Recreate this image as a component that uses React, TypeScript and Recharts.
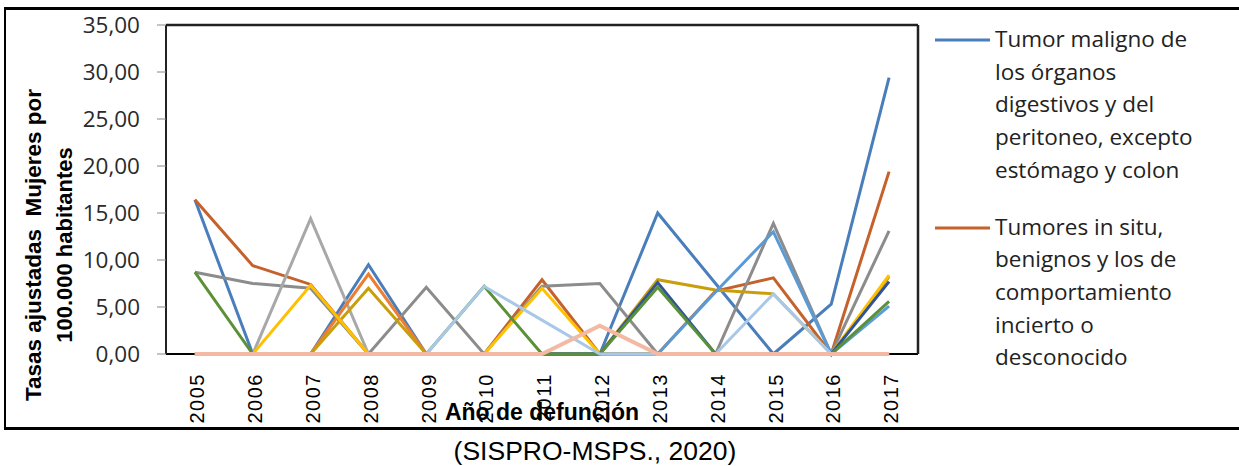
import React from "react";
import { LineChart, Line, XAxis, YAxis, ReferenceLine } from "recharts";

const years = ["2005", "2006", "2007", "2008", "2009", "2010", "2011", "2012", "2013", "2014", "2015", "2016", "2017"];

const tumorMaligno = [16.4, 0, 0, 9.5, 0, 0, 0, 0, 15.0, 7.5, 0, 5.3, 29.4];
const tumoresInSitu = [16.4, 9.4, 7.4, 0, 0, 0, 7.9, 0, 0, 6.7, 8.1, 0, 19.4];
const serieGris = [8.7, 7.5, 7.0, 0, 7.1, 0, 7.2, 7.5, 0, 0, 13.9, 0, 13.1];
const serieGrisClaro = [0, 0, 14.4, 0, 0, 0, 0, 0, 0, 0, 0, 0, 0];
const serieNaranja = [0, 0, 0, 8.5, 0, 0, 0, 0, 0, 0, 0, 0, 0];
const serieOro = [0, 0, 0, 7.0, 0, 0, 0, 0, 7.9, 6.8, 6.4, 0, 8.2];
const serieAmarilla = [0, 0, 7.3, 0, 0, 0, 7.0, 0, 0, 0, 0, 0, 8.4];
const serieAzulMedio = [0, 0, 0, 0, 0, 0, 0, 0, 0, 6.6, 13.0, 0, 5.1];
const serieAzulOscuro = [0, 0, 0, 0, 0, 0, 0, 0, 7.6, 0, 0, 0, 7.7];
const serieVerde = [8.7, 0, 0, 0, 0, 7.2, 0, 0, 7.1, 0, 0, 0, 5.6];
const serieAzulPalido = [0, 0, 0, 0, 0, 7.2, 3.6, 0, 0, 0, 6.4, 0, 0];
const serieSalmon = [0, 0, 0, 0, 0, 0, 0, 3.0, 0, 0, 0, 0, 0];

const yTicks = [0, 5, 10, 15, 20, 25, 30, 35];

// drawing order matters: later series sit on top
const series = [
  { key: "tumorMaligno", name: "Tumor maligno de los órganos digestivos y del peritoneo, excepto estómago y colon", values: tumorMaligno, color: "#4a7ebb", legend: true },
  { key: "tumoresInSitu", name: "Tumores in situ, benignos y los de comportamiento incierto o desconocido", values: tumoresInSitu, color: "#c5612b", legend: true },
  { key: "gris", name: "Serie 3", values: serieGris, color: "#8c8c8c" },
  { key: "grisClaro", name: "Serie 4", values: serieGrisClaro, color: "#a8a8a8" },
  { key: "naranja", name: "Serie 5", values: serieNaranja, color: "#ed7d31" },
  { key: "oro", name: "Serie 6", values: serieOro, color: "#c99e0c" },
  { key: "amarilla", name: "Serie 7", values: serieAmarilla, color: "#ffc000" },
  { key: "azulMedio", name: "Serie 8", values: serieAzulMedio, color: "#5b9bd5" },
  { key: "azulOscuro", name: "Serie 9", values: serieAzulOscuro, color: "#2f5597" },
  { key: "verde", name: "Serie 10", values: serieVerde, color: "#5a9138" },
  { key: "azulPalido", name: "Serie 11", values: serieAzulPalido, color: "#a9c8e8" },
  { key: "salmon", name: "Serie 12", values: serieSalmon, color: "#f4b9a3" },
];

const data = years.map((year, idx) => {
  const row: Record<string, number | string> = { idx, year };
  series.forEach((s) => {
    row[s.key] = s.values[idx];
  });
  return row;
});

const labelTicks = years.map((_, i) => i);
const boundTicks = years.map((_, i) => i - 0.5).concat(years.length - 0.5);
const xDomain = [-0.5, years.length - 0.5];
const lastIdx = years.length - 1;

const fmt = (v: number) => v.toFixed(2).replace(".", ",");

const YearTick = (props: any) => {
  const { x, y, payload } = props;
  return (
    <text
      transform={`translate(${x + 2},${y + 18}) rotate(-90)`}
      textAnchor="end"
      dy="0.36em"
      fontSize={20}
      fontFamily="'Liberation Sans', Arial, sans-serif"
      letterSpacing={1.5}
      fill="#000"
    >
      {years[payload.value]}
    </text>
  );
};

export default function App() {
  return (
    <div style={{ position: "absolute", left: 0, top: 0, width: 1239, height: 466, background: "#fff", overflow: "hidden" }}>
      <div
        style={{
          position: "absolute",
          left: 4,
          top: 7,
          width: 1235,
          height: 423,
          borderTop: "3px solid #000",
          borderBottom: "3px solid #000",
          borderLeft: "2px solid #000",
          boxSizing: "border-box",
        }}
      />
      <div style={{ position: "absolute", left: 0, top: 0 }}>
        <LineChart width={1239} height={466} data={data} margin={{ top: 24, right: 320, bottom: 110, left: 0 }}>
          <XAxis
            xAxisId="bounds"
            type="number"
            domain={xDomain}
            ticks={boundTicks}
            interval={0}
            tick={false}
            tickSize={6}
            tickLine={{ stroke: "#888" }}
            axisLine={false}
            height={1}
          />
          <XAxis
            xAxisId="labels"
            dataKey="idx"
            type="number"
            domain={xDomain}
            ticks={labelTicks}
            interval={0}
            tick={<YearTick />}
            tickLine={false}
            tickSize={0}
            tickMargin={0}
            axisLine={false}
            height={1}
          />
          <XAxis
            xAxisId="top"
            orientation="top"
            type="number"
            domain={xDomain}
            tick={false}
            tickLine={false}
            axisLine={{ stroke: "#222", strokeWidth: 2.5 }}
            height={1}
          />
          <YAxis
            type="number"
            domain={[0, 35]}
            ticks={yTicks}
            interval={0}
            tickFormatter={fmt}
            tickSize={9}
            tickMargin={17}
            width={166}
            tickLine={{ stroke: "#888" }}
            axisLine={{ stroke: "#222", strokeWidth: 2 }}
            tick={{ fontSize: 22.5, fontFamily: "'Open Sans', sans-serif", fill: "#2a2a2a" }}
          />
          <YAxis
            yAxisId="right"
            orientation="right"
            type="number"
            domain={[0, 35]}
            tick={false}
            tickLine={false}
            width={1}
            axisLine={{ stroke: "#222", strokeWidth: 2.5 }}
          />
          <ReferenceLine
            xAxisId="labels"
            segment={[{ x: -0.5, y: 0 }, { x: 0, y: 0 }]}
            stroke="#000"
            strokeWidth={2}
            ifOverflow="visible"
          />
          <ReferenceLine
            xAxisId="labels"
            segment={[{ x: lastIdx, y: 0 }, { x: lastIdx + 0.5, y: 0 }]}
            stroke="#000"
            strokeWidth={2}
            ifOverflow="visible"
          />
          {series.map((s) => (
            <Line
              key={s.key}
              xAxisId="labels"
              type="linear"
              dataKey={s.key}
              name={s.name}
              stroke={s.color}
              strokeWidth={s.key === "salmon" ? 4 : 3}
              dot={false}
              activeDot={false}
              isAnimationActive={false}
            />
          ))}
        </LineChart>
      </div>
      <svg width={1239} height={466} style={{ position: "absolute", left: 0, top: 0, pointerEvents: "none" }}>
        <g fontFamily="'Liberation Sans', Arial, sans-serif" fontWeight="bold" fill="#000">
          <text transform="translate(41,245) rotate(-90)" textAnchor="middle" fontSize={22.5} style={{ whiteSpace: "pre" }}>
            Tasas ajustadas  Mujeres por
          </text>
          <text transform="translate(72,245) rotate(-90)" textAnchor="middle" fontSize={22}>
            100.000 habitantes
          </text>
          <text x={542} y={420} textAnchor="middle" fontSize={23}>
            Año de defunción
          </text>
        </g>
        <text x={595} y={460} textAnchor="middle" fontSize={26.5} fontFamily="'Liberation Sans', Arial, sans-serif" fill="#000">
          (SISPRO-MSPS., 2020)
        </text>
      </svg>
      <div style={{ position: "absolute", left: 935, top: 23, fontFamily: "'Open Sans', sans-serif", fontSize: 22.5, color: "#222" }}>
        {series
          .filter((s) => s.legend)
          .map((s) => (
            <div key={s.key} style={{ display: "flex", alignItems: "flex-start", marginBottom: 24 }}>
              <svg width={60} height={33} style={{ flex: "none" }}>
                <line x1={0} y1={17} x2={55} y2={17} stroke={s.color} strokeWidth={3} />
              </svg>
              <div style={{ width: 220, lineHeight: "32.7px" }}>{s.name}</div>
            </div>
          ))}
      </div>
    </div>
  );
}
